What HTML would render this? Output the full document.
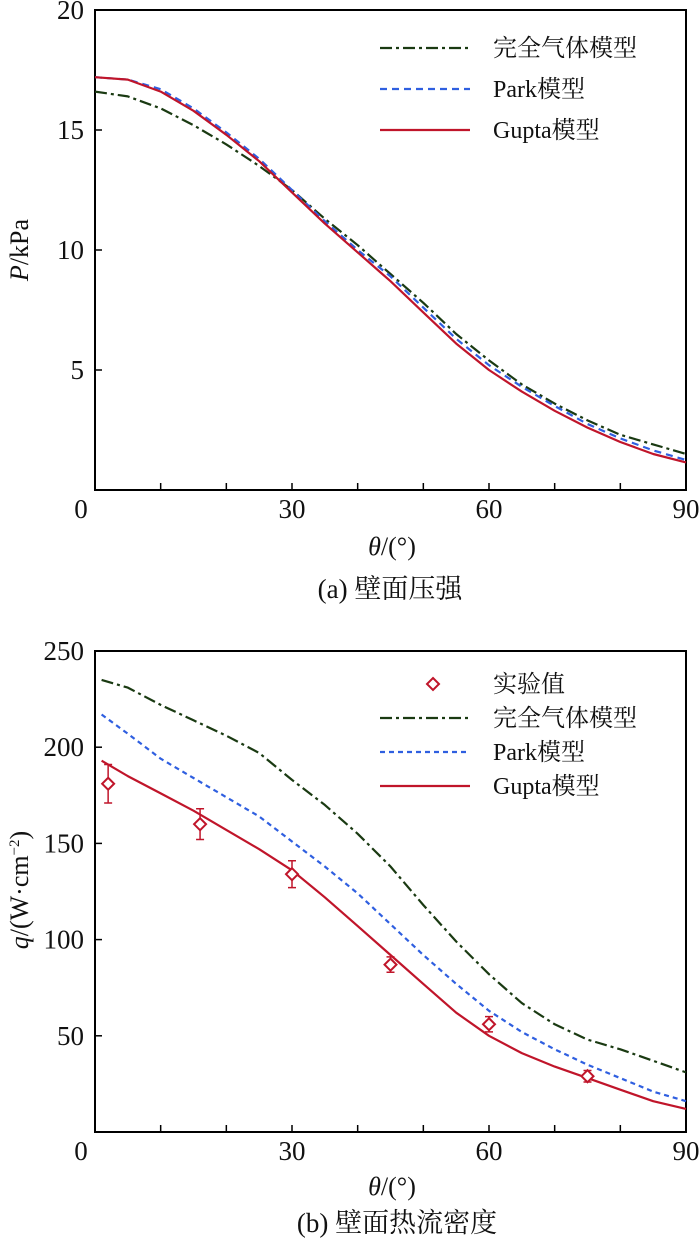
<!DOCTYPE html>
<html><head><meta charset="utf-8"><style>
body{margin:0;background:#fff}
svg text{font-family:"Liberation Serif","Noto Serif CJK SC",serif;fill:#111}
</style></head><body>
<svg id="s" width="700" height="1240" viewBox="0 0 700 1240" xmlns="http://www.w3.org/2000/svg"></svg>
<script>
const thetas=[0,5,10,15,20,25,30,35,40,45,50,55,60,65,70,75,80,85,90];
const pIdeal=[16.6,16.4,15.9,15.2,14.4,13.5,12.5,11.3,10.2,9.0,7.8,6.5,5.4,4.4,3.6,2.9,2.3,1.9,1.5];
const pPark=[17.2,17.1,16.7,15.9,14.9,13.8,12.5,11.2,10.0,8.9,7.6,6.3,5.2,4.3,3.5,2.75,2.15,1.65,1.25];
const pGupta=[17.2,17.1,16.6,15.8,14.8,13.7,12.4,11.1,9.9,8.7,7.4,6.1,5.0,4.1,3.3,2.6,2.0,1.5,1.15];
const qThetas=[1,5,10,15,20,25,30,35,40,45,50,55,60,65,70,75,80,85,90];
const qIdeal=[235,231,222,214,206,197,183,170,155,138,118,99,82,67,56,48,43,37,31];
const qPark=[217,207,194,184,174,164,151,138,124,108,92,77,63,52,43,35,28,21,16];
const qGupta=[193,185,176,167,157,147,136,122,107,92,77,62,50,41,34,28,22,16,12];
const expTheta=[2,16,30,45,60,75];
const expQ=[181,160,134,87,56,29];
const expErr=[10,8,7,4,4,3];
const xTicks=[0,30,60,90];
const pTicks=[5,10,15,20];
const qTicks=[50,100,150,200,250];

const NS="http://www.w3.org/2000/svg",svg=document.getElementById('s');
function mk(t,a,p){const e=document.createElementNS(NS,t);for(const k in a)e.setAttribute(k,a[k]);(p||svg).appendChild(e);return e;}
const X=v=>95+v*(591/90);
function panel(top,bottom,ymax,yTicks,series,name){
  const Y=v=>bottom-v*(bottom-top)/ymax;
  const g=mk('g',{});
  
  
  const fr=mk('rect',{x:95,y:top,width:591,height:bottom-top,fill:'none',stroke:'#000','stroke-width':2},g);
  
  for(let v=10;v<90;v+=10){const t=mk('line',{x1:X(v),x2:X(v),y1:bottom,y2:bottom-7,stroke:'#000','stroke-width':1.5},g);
    }
  xTicks.forEach(v=>{const t=mk('text',{x:v===0?81:X(v),y:bottom+28,'font-size':27,'text-anchor':'middle'},g);t.textContent=v;
    });
  yTicks.forEach(v=>{const l=mk('line',{x1:95,x2:102,y1:Y(v),y2:Y(v),stroke:'#000','stroke-width':1.5},g);
    
    const t=mk('text',{x:84,y:Y(v)+9,'font-size':27,'text-anchor':'end'},g);t.textContent=v;
    });
  series.forEach(s=>{const d=s.xs.map((t,i)=>(i?'L':'M')+X(t).toFixed(1)+','+Y(s.ys[i]).toFixed(1)).join('');
    const p=mk('path',{d:d,fill:'none',stroke:s.c,'stroke-width':2.2,'stroke-dasharray':s.dash||'none','stroke-linejoin':'round'},g);
    });
  return {g,Y};
}
const A=panel(10,490,20,pTicks,[
 {xs:thetas,ys:pIdeal,c:'#1a3a12',dash:'12,4,3,4',n:'ideal-gas-line'},
 {xs:thetas,ys:pPark,c:'#2f5fe0',dash:'7,5',n:'park-line'},
 {xs:thetas,ys:pGupta,c:'#c0152a',n:'gupta-line'}],'pressure-chart');
const B=panel(651,1132,250,qTicks,[
 {xs:qThetas,ys:qIdeal,c:'#1a3a12',dash:'12,4,3,4',n:'ideal-gas-line'},
 {xs:qThetas,ys:qPark,c:'#2f5fe0',dash:'5,4',n:'park-line'},
 {xs:qThetas,ys:qGupta,c:'#c0152a',n:'gupta-line'}],'heat-flux-chart');
expTheta.forEach((t,i)=>{const x=X(t),y=B.Y(expQ[i]),e=expErr[i]*1.92;
  const eb=mk('path',{d:`M${x},${y-e}L${x},${y+e}M${x-4},${y-e}L${x+4},${y-e}M${x-4},${y+e}L${x+4},${y+e}`,stroke:'#c0152a','stroke-width':1.5,fill:'none'},B.g);
  
  const m=mk('path',{d:`M${x},${y-6}L${x+6},${y}L${x},${y+6}L${x-6},${y}Z`,stroke:'#c0152a','stroke-width':2,fill:'#fff'},B.g);
  });
function legend(g,y,c,dash,label){const l=mk('line',{x1:380,x2:470,y1:y,y2:y,stroke:c,'stroke-width':2.2,'stroke-dasharray':dash||'none'},g);
  
  const t=mk('text',{x:493,y:y+8,'font-size':24},g);t.textContent=label;
  }
legend(A.g,48,'#1a3a12','12,4,3,4','完全气体模型');
legend(A.g,89,'#2f5fe0','7,5','Park模型');
legend(A.g,130,'#c0152a','','Gupta模型');
const dm=mk('path',{d:'M433,678L439,684L433,690L427,684Z',stroke:'#c0152a','stroke-width':2,fill:'#fff'},B.g);

const et=mk('text',{x:493,y:692,'font-size':24},B.g);et.textContent='实验值';

legend(B.g,718,'#1a3a12','12,4,3,4','完全气体模型');
legend(B.g,752,'#2f5fe0','5,4','Park模型');
legend(B.g,786,'#c0152a','','Gupta模型');
function txt(x,y,html,name,rot,size){const t=mk('text',{x:x,y:y,'font-size':size||26,'text-anchor':'middle'});
  if(rot)t.setAttribute('transform',`rotate(-90 ${x} ${y})`);t.innerHTML=html;
  }
txt(28,250,'<tspan font-style="italic">P</tspan>/kPa','y-axis-title',true);
txt(392,555,'<tspan font-style="italic">θ</tspan>/(°)','x-axis-title');
txt(390,598,'(a) 壁面压强','caption-a',false,27);
txt(28,890,'<tspan font-style="italic">q</tspan>/(W·cm<tspan font-size="15" dy="-9">−2</tspan><tspan dy="9">)</tspan>','y-axis-title',true);
txt(392,1195,'<tspan font-style="italic">θ</tspan>/(°)','x-axis-title');
txt(397,1232,'(b) 壁面热流密度','caption-b',false,27);
</script>
</body></html>
